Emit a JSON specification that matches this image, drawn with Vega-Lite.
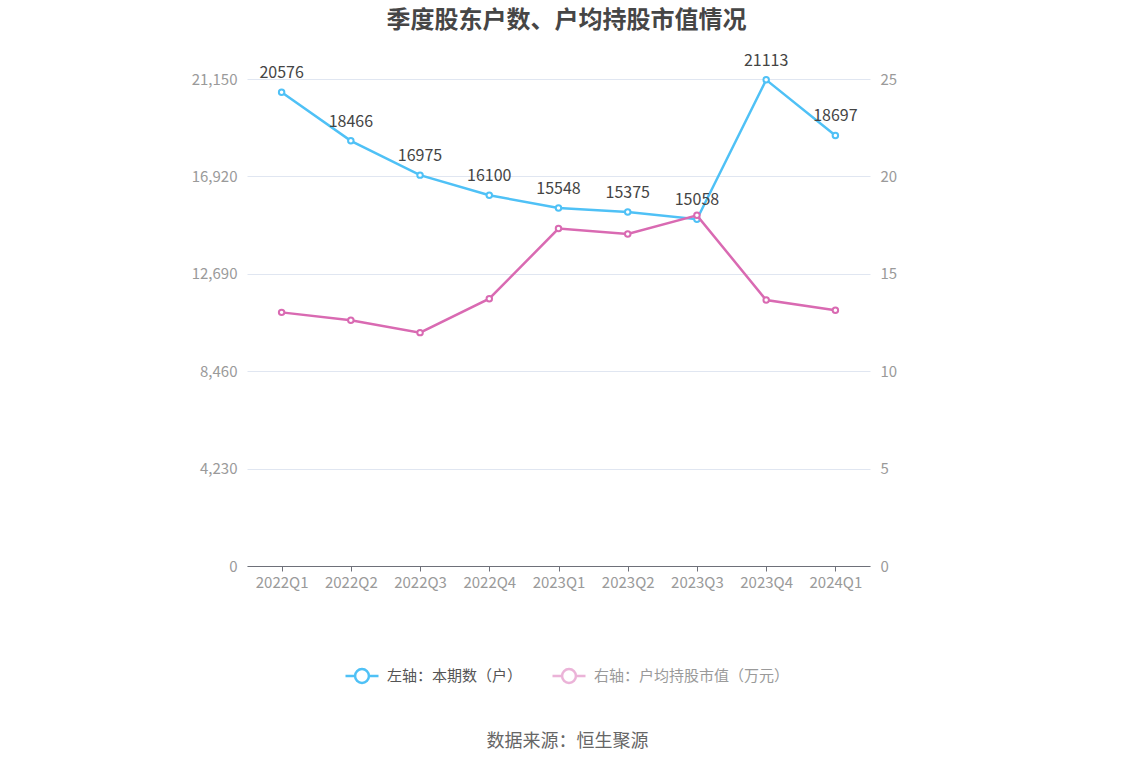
{
  "$schema": "https://vega.github.io/schema/vega-lite/v6.json",
  "width": 623,
  "height": 487,
  "autosize": "none",
  "padding": {"left": 247, "top": 79, "right": 264, "bottom": 200},
  "background": "white",
  "config": {
    "view": {"stroke": null},
    "font": "Noto Sans CJK SC"
  },
  "title": {
    "text": "季度股东户数、户均持股市值情况",
    "anchor": "middle",
    "frame": "group",
    "dx": 8,
    "dy": -16,
    "fontSize": 24,
    "fontWeight": "bold",
    "color": "#464646",
    "font": "Noto Sans CJK SC"
  },
  "data": {
    "values": [
      {"q": "2022Q1", "h": 20576, "v": 13.02},
      {"q": "2022Q2", "h": 18466, "v": 12.61},
      {"q": "2022Q3", "h": 16975, "v": 11.98},
      {"q": "2022Q4", "h": 16100, "v": 13.72},
      {"q": "2023Q1", "h": 15548, "v": 17.32},
      {"q": "2023Q2", "h": 15375, "v": 17.04},
      {"q": "2023Q3", "h": 15058, "v": 18.0},
      {"q": "2023Q4", "h": 21113, "v": 13.65},
      {"q": "2024Q1", "h": 18697, "v": 13.13}
    ]
  },
  "encoding": {
    "x": {
      "field": "q",
      "type": "nominal",
      "sort": null,
      "axis": {
        "title": "数据来源：恒生聚源",
        "titleX": 320,
        "titleY": 175,
        "titleBaseline": "middle",
        "titleFontSize": 18,
        "titleFontWeight": "normal",
        "titleColor": "#666666",
        "titleFont": "Noto Sans CJK SC",
        "labelAngle": 0,
        "labelColor": "#9a9a9a",
        "labelFontSize": 15,
        "labelPadding": 4,
        "domainColor": "#6e7079",
        "tickColor": "#6e7079",
        "tickSize": 5,
        "grid": false
      }
    }
  },
  "layer": [
    {
      "layer": [
        {
          "mark": {
            "type": "line",
            "strokeWidth": 2.5,
            "point": {"filled": false, "fill": "white", "size": 30, "strokeWidth": 2}
          },
          "encoding": {
            "y": {
              "field": "h",
              "type": "quantitative",
              "scale": {"domain": [0, 21150], "nice": false},
              "axis": {
                "title": null,
                "orient": "left",
                "values": [0, 4230, 8460, 12690, 16920, 21150],
                "format": ",.0f",
                "domain": false,
                "ticks": false,
                "labelColor": "#9a9a9a",
                "labelFontSize": 15,
                "labelPadding": 10,
                "grid": true,
                "gridColor": "#e0e6f1",
                "gridWidth": 1
              }
            },
            "color": {
              "datum": "左轴：本期数（户）",
              "type": "nominal",
              "scale": {
                "domain": ["左轴：本期数（户）", "右轴：户均持股市值（万元）"],
                "range": ["#4fc1f6", "#d96ab2"]
              },
              "legend": {
                "title": null,
                "orient": "none",
                "legendX": 97,
                "legendY": 579,
                "direction": "horizontal",
                "symbolType": "M-1,0H-0.42M0.42,0H1M0.42,0A0.42,0.42,0,1,1,-0.42,0A0.42,0.42,0,1,1,0.42,0Z",
                "symbolSize": 1089,
                "symbolStrokeWidth": 2.5,
                "labelFontSize": 15,
                "labelFont": "Noto Sans CJK SC",
                "labelLimit": 400,
                "labelOffset": 7,
                "columnPadding": 24,
                "encode": {
                  "symbols": {
                    "update": {
                      "fill": {"value": "white"},
                      "opacity": {"signal": "datum.index === 0 ? 1 : 0.5"}
                    }
                  },
                  "labels": {
                    "update": {
                      "fill": {"signal": "datum.index === 0 ? '#555555' : '#9a9a9a'"}
                    }
                  }
                }
              }
            }
          }
        },
        {
          "mark": {"type": "text", "dy": -19, "fontSize": 16, "color": "#444444", "font": "Noto Sans CJK SC"},
          "encoding": {
            "y": {"field": "h", "type": "quantitative"},
            "text": {"field": "h", "type": "quantitative", "format": "d"}
          }
        }
      ]
    },
    {
      "mark": {
        "type": "line",
        "strokeWidth": 2.5,
        "point": {"filled": false, "fill": "white", "size": 30, "strokeWidth": 2}
      },
      "encoding": {
        "y": {
          "field": "v",
          "type": "quantitative",
          "scale": {"domain": [0, 25], "nice": false},
          "axis": {
            "title": null,
            "orient": "right",
            "values": [0, 5, 10, 15, 20, 25],
            "domain": false,
            "ticks": false,
            "labelColor": "#9a9a9a",
            "labelFontSize": 15,
            "labelPadding": 10,
            "grid": false
          }
        },
        "color": {"datum": "右轴：户均持股市值（万元）", "type": "nominal"}
      }
    }
  ],
  "resolve": {"scale": {"y": "independent"}}
}
